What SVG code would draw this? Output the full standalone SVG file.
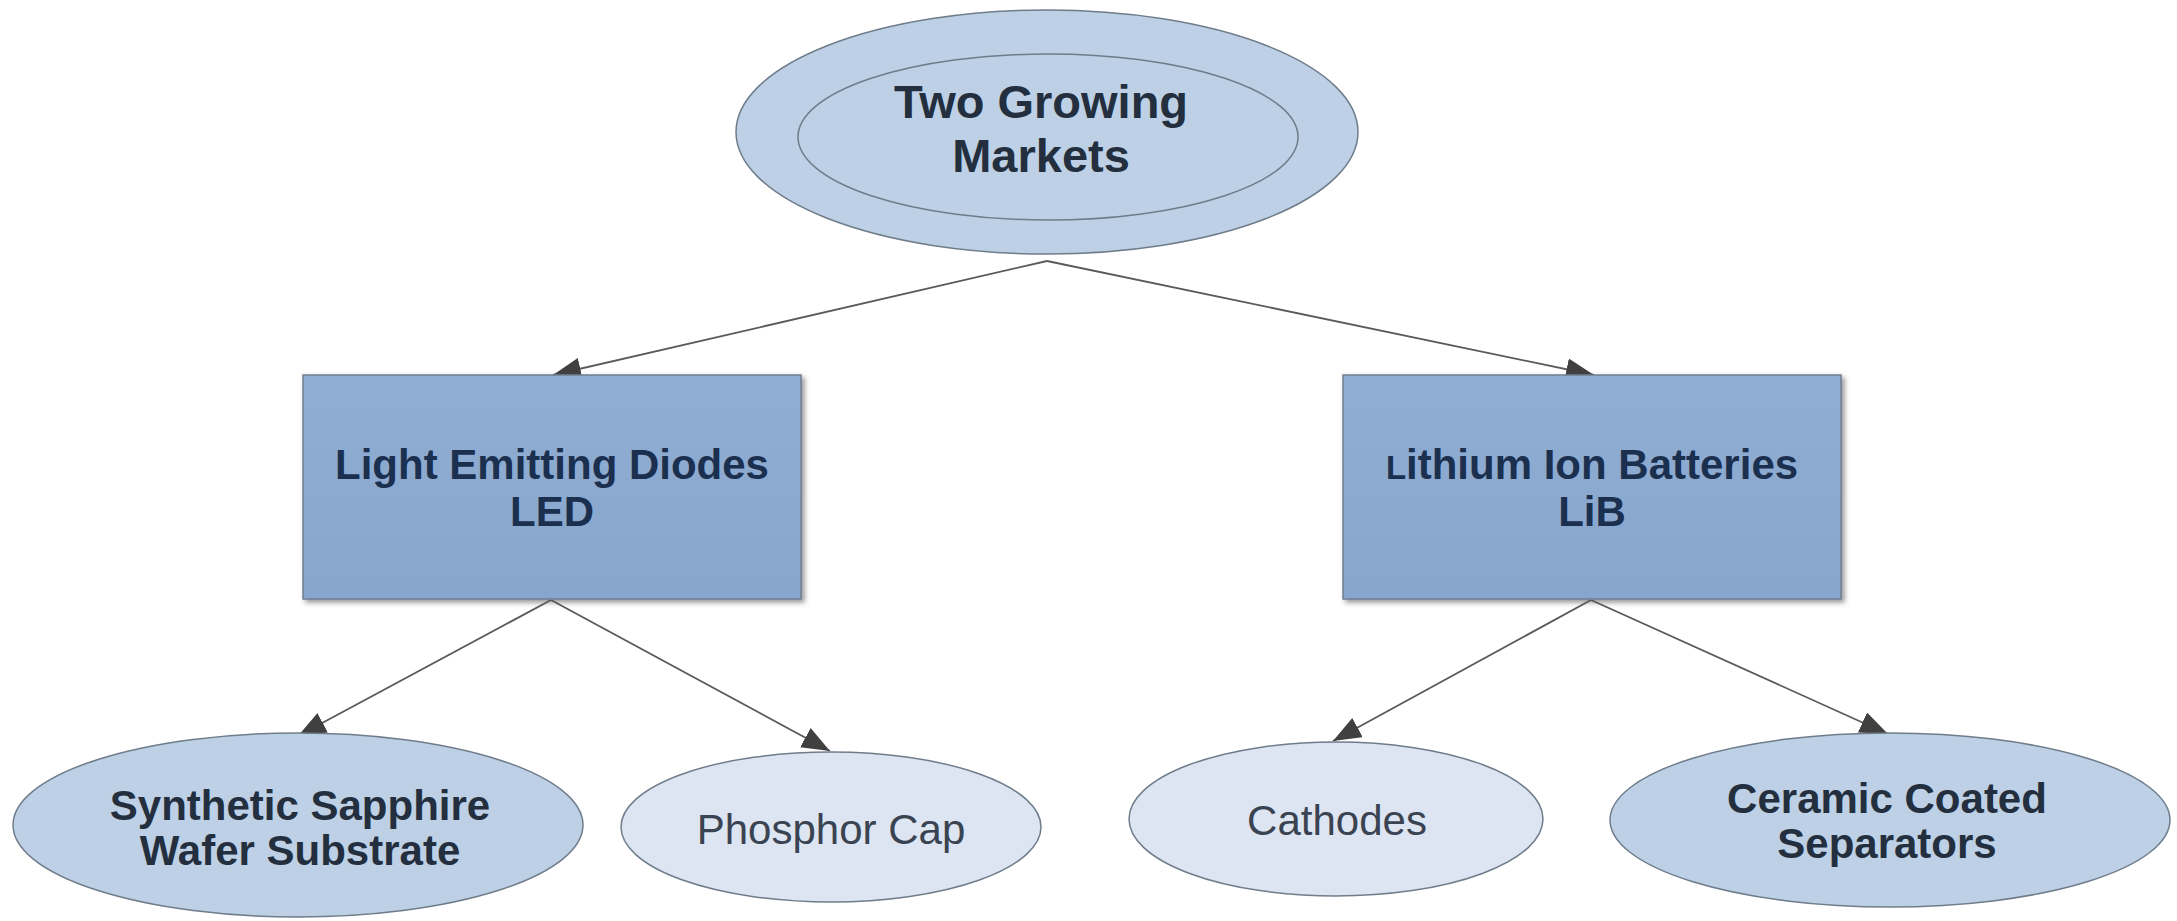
<svg xmlns="http://www.w3.org/2000/svg" width="2177" height="921" viewBox="0 0 2177 921">
  <style>
    .bold { font-family: "Liberation Sans", Arial, sans-serif; font-weight: bold; font-size: 42px; fill: #232f3e; text-anchor: middle; }
    .title { font-size: 47px; }
    .boxlabel { font-family: "Liberation Sans", Arial, sans-serif; font-weight: bold; font-size: 42px; fill: #1b2f4e; text-anchor: middle; }
    .plain { font-family: "Liberation Sans", Arial, sans-serif; font-size: 42px; fill: #3a4352; text-anchor: middle; }
    .ell-dark { fill: #bdd0e5; stroke: #6f7c8a; stroke-width: 1.5; }
    .ell-light { fill: #dce5f1; stroke: #6f7c8a; stroke-width: 1.5; }
    .box { fill: url(#boxFill); stroke: #6f7f94; stroke-width: 1.5; filter: url(#shadow); }
    .edge { stroke: #5a5a5a; stroke-width: 1.8; fill: none; marker-end: url(#arrow); }
  </style>
  <defs>
    <linearGradient id="boxFill" x1="0" y1="0" x2="0" y2="1">
      <stop offset="0" stop-color="#90aed3"/>
      <stop offset="1" stop-color="#88a6cd"/>
    </linearGradient>
    <filter id="shadow" x="-5%" y="-5%" width="115%" height="120%">
      <feDropShadow dx="3" dy="3" stdDeviation="2.5" flood-color="#555" flood-opacity="0.6"/>
    </filter>
    <marker id="arrow" markerUnits="userSpaceOnUse" markerWidth="30" markerHeight="24" refX="28" refY="11" orient="auto">
      <path d="M0,0 L28,11 L0,22 z" fill="#404040"/>
    </marker>
  </defs>

  <rect width="2177" height="921" fill="#ffffff"/>

  <!-- connectors -->
  <g id="connectors">
    <line class="edge" x1="1047" y1="261" x2="553" y2="375"/>
    <line class="edge" x1="1047" y1="261" x2="1594" y2="375"/>
    <line class="edge" x1="551" y1="600" x2="298" y2="736"/>
    <line class="edge" x1="551" y1="600" x2="830" y2="751"/>
    <line class="edge" x1="1591" y1="600" x2="1333" y2="741"/>
    <line class="edge" x1="1591" y1="600" x2="1888" y2="734"/>
  </g>

  <!-- root -->
  <g id="markets">
    <ellipse class="ell-dark" cx="1047" cy="132" rx="311" ry="122"/>
    <ellipse cx="1048" cy="137" rx="250" ry="83" fill="none" stroke="#6f7c8a" stroke-width="1.5"/>
    <text class="bold title" x="1041" y="118">Two Growing</text>
    <text class="bold title" x="1041" y="172">Markets</text>
  </g>

  <!-- second level -->
  <g id="led">
    <rect class="box" x="303" y="375" width="498" height="224"/>
    <text class="boxlabel" x="552" y="479">Light Emitting Diodes</text>
    <text class="boxlabel" x="552" y="526">LED</text>
  </g>

  <g id="lib">
    <rect class="box" x="1343" y="375" width="498" height="224"/>
    <text class="boxlabel" x="1592" y="479"><tspan style="font-size:33px">L</tspan>ithium Ion Batteries</text>
    <text class="boxlabel" x="1592" y="526">LiB</text>
  </g>

  <!-- leaves -->
  <g id="sapphire">
    <ellipse class="ell-dark" cx="298" cy="825" rx="285" ry="92"/>
    <text class="bold" x="300" y="820">Synthetic Sapphire</text>
    <text class="bold" x="300" y="865">Wafer Substrate</text>
  </g>

  <g id="phosphor">
    <ellipse class="ell-light" cx="831" cy="827" rx="210" ry="75"/>
    <text class="plain" x="831" y="844">Phosphor Cap</text>
  </g>

  <g id="cathodes">
    <ellipse class="ell-light" cx="1336" cy="819" rx="207" ry="77"/>
    <text class="plain" x="1337" y="835">Cathodes</text>
  </g>

  <g id="separators">
    <ellipse class="ell-dark" cx="1890" cy="820" rx="280" ry="87"/>
    <text class="bold" x="1887" y="813">Ceramic Coated</text>
    <text class="bold" x="1887" y="858">Separators</text>
  </g>
</svg>
